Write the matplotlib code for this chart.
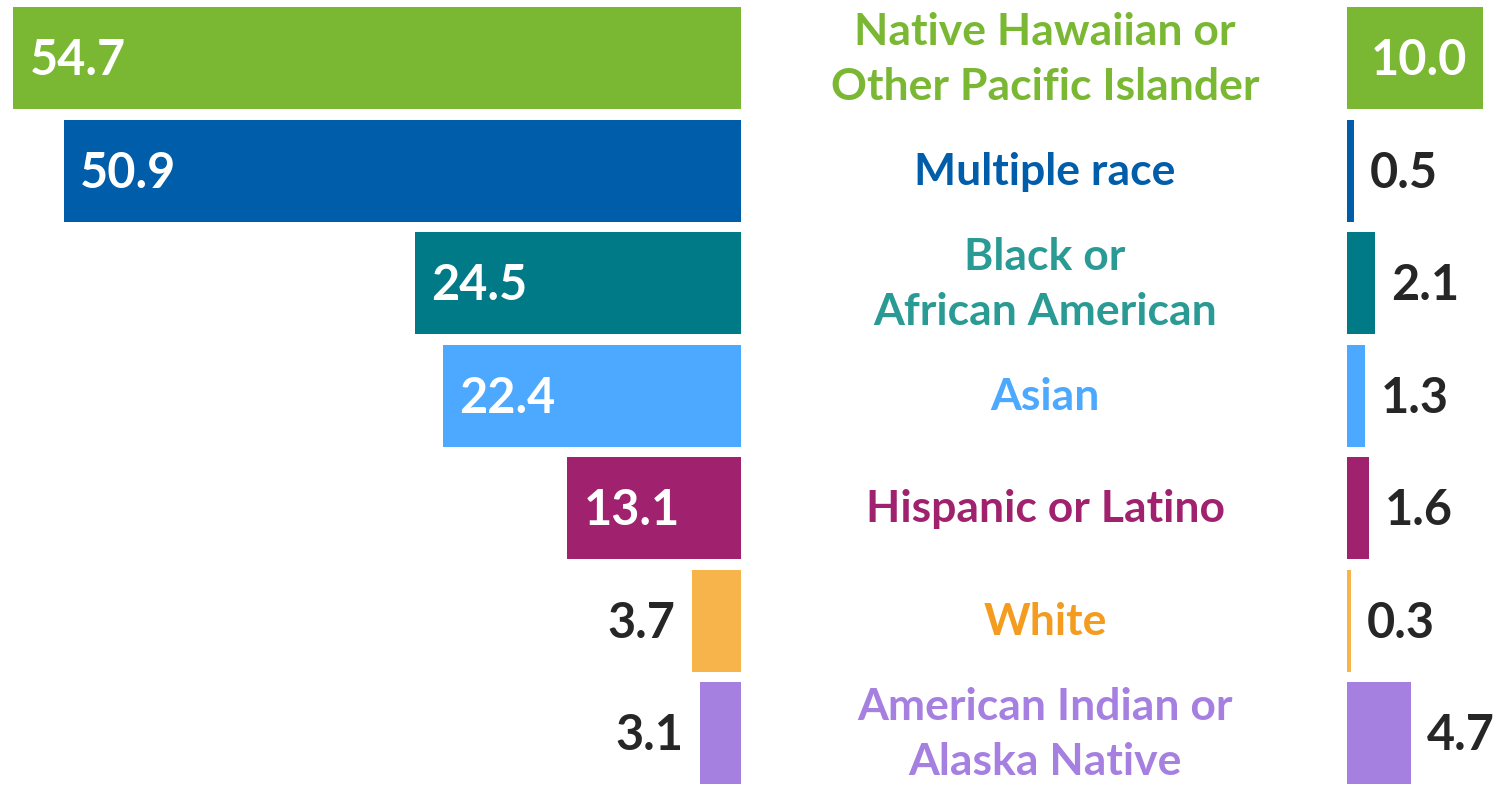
import matplotlib
matplotlib.use("Agg")
import matplotlib.pyplot as plt

categories = ["Native Hawaiian or\nOther Pacific Islander", "Multiple race",
              "Black or\nAfrican American", "Asian", "Hispanic or Latino",
              "White", "American Indian or\nAlaska Native"]
left_values = [54.7, 50.9, 24.5, 22.4, 13.1, 3.7, 3.1]
right_values = [10.0, 0.5, 2.1, 1.3, 1.6, 0.3, 4.7]
bar_colors = ["#7AB833", "#005DAA", "#007A87", "#4DA9FF", "#A0226E", "#F7B44B", "#A680E0"]
text_colors = ["#7AB833", "#005DAA", "#2A9A94", "#4DA9FF", "#A0226E", "#F39C1F", "#A680E0"]

W, H = 1498, 786
plt.rcParams['font.family'] = ['Lato', 'DejaVu Sans']
fig = plt.figure(figsize=(W / 100, H / 100), dpi=100)

ylim = ((786 - 58) / 112.5, -58 / 112.5)
ypos = list(range(len(categories)))
bar_h = 102 / 112.5

axL = fig.add_axes([0, 0, 741 / W, 1])
axM = fig.add_axes([741 / W, 0, (1347 - 741) / W, 1])
axR = fig.add_axes([1347 / W, 0, (W - 1347) / W, 1])
for ax in (axL, axM, axR):
    ax.set_ylim(*ylim)
    ax.axis("off")

axL.set_xlim(741 / 13.31, 0)
axR.set_xlim(0, 151 / 13.55)
axM.set_xlim(0, 1)

vfs = 35
dy = -2
axL.barh(ypos, left_values, height=bar_h, color=bar_colors)
for y, v in zip(ypos, left_values):
    if v >= 10:
        axL.annotate(f"{v:.1f}", (v, y), xytext=(12, dy), textcoords="offset points",
                     ha="left", va="center", color="white", fontsize=vfs, fontweight="bold")
    else:
        axL.annotate(f"{v:.1f}", (v, y), xytext=(-12, dy), textcoords="offset points",
                     ha="right", va="center", color="#262626", fontsize=vfs, fontweight="bold")

axR.barh(ypos, right_values, height=bar_h, color=bar_colors)
for y, v in zip(ypos, right_values):
    if v > 8:
        axR.annotate(f"{v:.1f}", (v, y), xytext=(-11, dy), textcoords="offset points",
                     ha="right", va="center", color="white", fontsize=vfs, fontweight="bold")
    else:
        axR.annotate(f"{v:.1f}", (v, y), xytext=(11.5, dy), textcoords="offset points",
                     ha="left", va="center", color="#262626", fontsize=vfs, fontweight="bold")

for y, c, col in zip(ypos, categories, text_colors):
    axM.annotate(c, ((1045 - 741) / 606, y), xytext=(0, -1), textcoords="offset points",
                 ha="center", va="center", color=col,
                 fontsize=32, fontweight="bold", linespacing=1.45)

fig.savefig("out.png", dpi=100)
